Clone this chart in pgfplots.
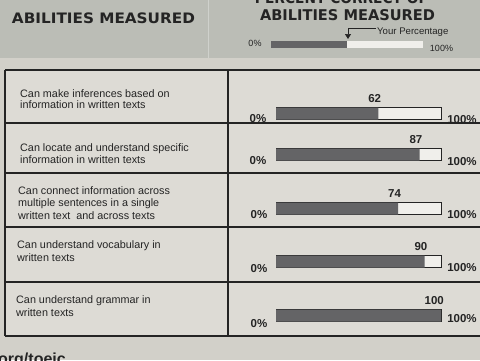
\documentclass[border=0pt]{standalone}
\usepackage{pgfplots}
\pgfplotsset{compat=1.18}
\usepackage{fontspec}
\setmainfont{Liberation Sans}
\newfontfamily\heavy{DejaVu Sans}
\usetikzlibrary{arrows.meta}
\definecolor{hdr}{RGB}{187,189,182}
\definecolor{paper}{RGB}{210,208,201}
\definecolor{cell}{RGB}{221,219,213}
\definecolor{ink}{RGB}{36,36,36}
\definecolor{barfill}{RGB}{100,100,102}
\definecolor{barwhite}{RGB}{240,239,235}
\newcommand{\rowtext}{\fontsize{10.8}{12}\selectfont}
\newcommand{\boldlab}{\bfseries\fontsize{11.5}{12}\selectfont}
\newcommand{\hdrtext}[3]{\resizebox{#1}{#2}{\heavy\bfseries #3}}
\begin{document}
\begin{tikzpicture}[x=1pt,y=1pt]
\useasboundingbox (0,0) rectangle (480,360);
\begin{scope}
\clip (0,0) rectangle (480,360);
\begin{scope}[shift={(0,360)}, yscale=-1]
  % backgrounds
  \fill[paper] (0,0) rectangle (480,360);
  \fill[hdr] (0,0) rectangle (480,58);
  \draw[hdr!70!white, line width=1pt] (208,0) -- (208,58);
  \fill[cell] (5,70) rectangle (480,336);
  % header texts
  \node[text=ink, inner sep=0pt] at (103.5,18.7) {\hdrtext{183pt}{10.7pt}{ABILITIES MEASURED}};
  \node[text=ink, inner sep=0pt] at (347.5,15) {\hdrtext{175pt}{11pt}{ABILITIES MEASURED}};
  \node[text=ink, inner sep=0pt] at (341.5,-1.7) {\hdrtext{173pt}{11pt}{PERCENT CORRECT OF}};
  % legend
  \fill[barfill] (271,41) rectangle (347,48);
  \fill[barwhite] (347,41) rectangle (423,48);
  \node[text=ink, inner sep=0pt, font=\fontsize{9}{10}\selectfont] at (255,43.5) {0\%};
  \node[text=ink, inner sep=0pt, font=\fontsize{9}{10}\selectfont] at (441.5,48) {100\%};
  \draw[ink, line width=0.7pt, -{Triangle[width=6pt,length=5pt]}] (376,28) -- (348,28) -- (348,39);
  \node[text=ink, inner sep=0pt, anchor=west, font=\fontsize{9.6}{10}\selectfont] at (377,32) {Your Percentage};
  % table lines
  \draw[ink, line width=1.6pt] (5,70) -- (480,70);
  \draw[ink, line width=1.4pt] (5,123) -- (480,123);
  \draw[ink, line width=1.4pt] (5,173) -- (480,173);
  \draw[ink, line width=1.4pt] (5,227) -- (480,227);
  \draw[ink, line width=1.4pt] (5,282) -- (480,282);
  \draw[ink, line width=1.8pt] (5,336) -- (480,336);
  \draw[ink, line width=1.4pt] (5,70) -- (5,336);
  \draw[ink, line width=1.4pt] (228,70) -- (228,336);
  % row texts
  \begin{scope}[every node/.style={anchor=base west, inner sep=0pt, text=ink, font=\rowtext}]
    \node at (20,97.3) {Can make inferences based on};
    \node at (20,108.3) {information in written texts};
    \node at (20,151.3) {Can locate and understand specific};
    \node at (20,163) {information in written texts};
    \node at (18,194) {Can connect information across};
    \node at (18,206.7) {multiple sentences in a single};
    \node at (18,219) {written text~ and across texts};
    \node at (17,248) {Can understand vocabulary in};
    \node at (17,261.3) {written texts};
    \node at (16,303.3) {Can understand grammar in};
    \node at (16,316.7) {written texts};
  \end{scope}
  % 0% and 100% labels
  \begin{scope}[every node/.style={anchor=base, inner sep=0pt, text=ink, font=\boldlab}]
    \node at (258,122) {0\%};
    \node at (258,164) {0\%};
    \node at (259,218) {0\%};
    \node at (259,272) {0\%};
    \node at (259,327) {0\%};
    \node at (462,123) {100\%};
    \node at (462,165) {100\%};
    \node at (462,218) {100\%};
    \node at (462,271) {100\%};
    \node at (462,322) {100\%};
  \end{scope}
  % cut-off footer text
  \node[anchor=base west, inner sep=0pt, text=ink, font=\bfseries\fontsize{16}{16}\selectfont] at (-2,364) {org/toeic};
\end{scope}
\end{scope}
\begin{axis}[
  at={(276pt,360pt)}, anchor=north west,
  scale only axis, width=165pt, height=360pt,
  xmin=0, xmax=100, ymin=0, ymax=360, y dir=reverse,
  hide axis, clip=false,
  /pgf/number format/assume math mode=true,
]
\addplot[xbar, bar width=12pt, bar shift=0pt, fill=barwhite, draw=ink, line width=0.6pt]
  coordinates {(100,113.5) (100,154.5) (100,208.5) (100,261.5) (100,315.5)};
\addplot[xbar, bar width=12pt, bar shift=0pt, fill=barfill, draw=none,
  nodes near coords, point meta=x,
  every node near coord/.style={anchor=base east, inner sep=0pt, yshift=11.5pt, xshift=3pt, font=\boldlab, text=ink}]
  coordinates {(62,113.5) (87,154.5) (74,208.5) (90,261.5) (100,315.5)};
\end{axis}
\end{tikzpicture}
\end{document}
